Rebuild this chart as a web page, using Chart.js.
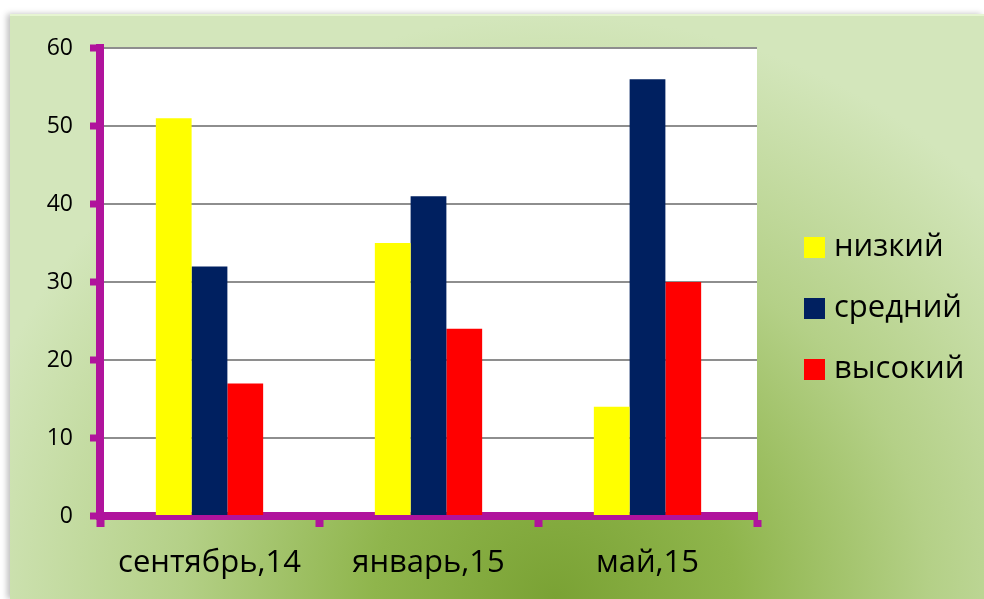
<!DOCTYPE html>
<html>
<head>
<meta charset="utf-8">
<script src="https://cdn.jsdelivr.net/npm/chart.js@4.4.1/dist/chart.umd.min.js"></script>
<style>
    html, body { margin: 0; padding: 0; background: #fff; }
    #wrap { position: relative; width: 984px; height: 599px; overflow: hidden; }
    #panel {
        position: absolute; left: 10px; top: 14px; right: 0; bottom: 0;
        background: radial-gradient(ellipse 62% 100% at 56% 100%, #7aa234 0%, #8fb54c 30%, #b4d087 62%, #d3e6bb 100%);
        box-shadow: -3px 0 6px rgba(0,0,0,0.25);
        border-top: 2px solid #e6f5d2;
    }
    #chartBox { position: absolute; left: 0; top: 0; width: 984px; height: 599px; }
</style>
</head>
<body>
<div id="wrap">
    <div id="panel"></div>
    <div id="chartBox"><canvas id="levelChart"></canvas></div>
</div>
<script>
// Data
const categories = ['сентябрь,14', 'январь,15', 'май,15'];
const seriesNames = ['низкий', 'средний', 'высокий'];
const lowValues = [51, 35, 14];
const midValues = [32, 41, 56];
const highValues = [17, 24, 30];
const seriesColors = ['#ffff00', '#002060', '#ff0000'];
const yTicks = [0, 10, 20, 30, 40, 50, 60];

const axisColor = '#b0139c';
const fontFamily = "'Open Sans', sans-serif";

// White plot area
const plotBg = {
    id: 'plotBg',
    beforeDraw(chart) {
        const a = chart.chartArea;
        const c = chart.ctx;
        c.save();
        c.fillStyle = '#ffffff';
        c.fillRect(a.left, a.top, a.right - a.left, a.bottom - a.top);
        c.restore();
    }
};

// Legend drawn on the right, from the datasets
const sideLegend = {
    id: 'sideLegend',
    afterDraw(chart) {
        const c = chart.ctx;
        c.save();
        c.font = '31px ' + fontFamily;
        c.textBaseline = 'middle';
        chart.data.datasets.forEach((ds, i) => {
            const cy = 247 + i * 61;
            c.fillStyle = ds.backgroundColor;
            c.fillRect(804, cy - 10, 21, 21);
            c.fillStyle = '#000';
            c.fillText(ds.label, 834, cy);
        });
        c.restore();
    }
};

const valueSets = [lowValues, midValues, highValues];

new Chart(document.getElementById('levelChart'), {
    type: 'bar',
    data: {
        labels: categories,
        datasets: seriesNames.map((name, i) => ({
            label: name,
            data: valueSets[i],
            backgroundColor: seriesColors[i],
            borderWidth: 0,
            categoryPercentage: 0.49,
            barPercentage: 1.0
        }))
    },
    options: {
        responsive: true,
        maintainAspectRatio: false,
        animation: false,
        layout: { padding: { top: 48, right: 227, left: 0, bottom: 0 } },
        plugins: {
            legend: { display: false },
            tooltip: { enabled: false }
        },
        scales: {
            x: {
                afterFit: s => { s.height = 83; },
                border: { display: true, color: axisColor, width: 8 },
                grid: {
                    display: true,
                    offset: true,
                    drawOnChartArea: false,
                    drawTicks: true,
                    tickLength: 11,
                    tickColor: axisColor,
                    tickWidth: 8
                },
                ticks: {
                    color: '#000',
                    padding: 18,
                    font: { family: fontFamily, size: 31 }
                }
            },
            y: {
                min: 0,
                max: 60,
                afterFit: s => { s.width = 100; },
                afterBuildTicks: s => { s.ticks = yTicks.map(v => ({ value: v })); },
                border: { display: true, color: axisColor, width: 8 },
                grid: {
                    color: '#8e8e8e',
                    lineWidth: 2,
                    drawTicks: true,
                    tickLength: 10,
                    tickColor: axisColor,
                    tickWidth: 7
                },
                ticks: {
                    color: '#000',
                    padding: 17,
                    font: { family: fontFamily, size: 23 }
                }
            }
        }
    },
    plugins: [plotBg, sideLegend]
});
</script>
</body>
</html>
